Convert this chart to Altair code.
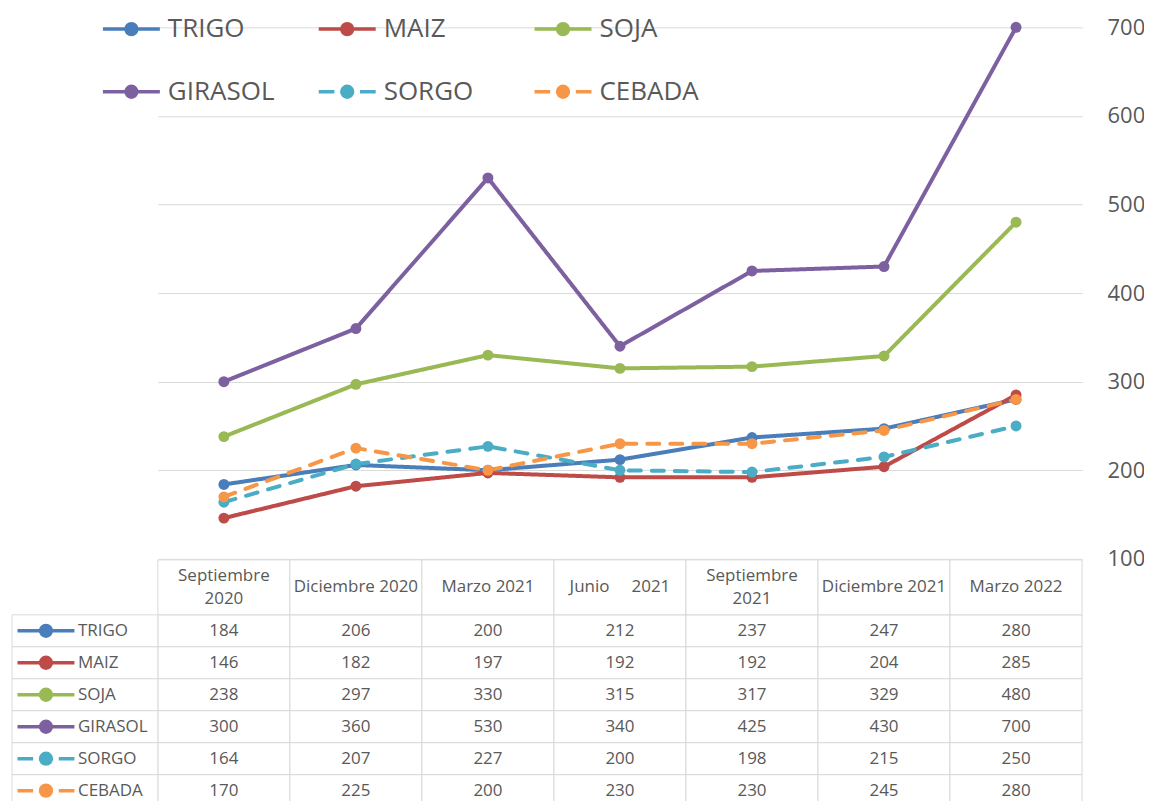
import altair as alt
import pandas as pd

periods = ["Septiembre 2020", "Diciembre 2020", "Marzo 2021", "Junio 2021",
           "Septiembre 2021", "Diciembre 2021", "Marzo 2022"]
header_labels = ["Septiembre\n2020", "Diciembre 2020", "Marzo 2021",
                 "Junio\u00a0\u00a0\u00a0\u00a0 2021", "Septiembre\n2021",
                 "Diciembre 2021", "Marzo 2022"]
series = ["TRIGO", "MAIZ", "SOJA", "GIRASOL", "SORGO", "CEBADA"]
trigo = [184, 206, 200, 212, 237, 247, 280]
maiz = [146, 182, 197, 192, 192, 204, 285]
soja = [238, 297, 330, 315, 317, 329, 480]
girasol = [300, 360, 530, 340, 425, 430, 700]
sorgo = [164, 207, 227, 200, 198, 215, 250]
cebada = [170, 225, 200, 230, 230, 245, 280]
colors = ["#4a7ebb", "#be4b48", "#98b954", "#7d60a0", "#4bacc6", "#f79646"]
y_ticks = [100, 200, 300, 400, 500, 600, 700]

values = {"TRIGO": trigo, "MAIZ": maiz, "SOJA": soja, "GIRASOL": girasol,
          "SORGO": sorgo, "CEBADA": cebada}
rows = []
for s in series:
    for i, p in enumerate(periods):
        rows.append({"series": s, "period": p, "idx": i, "value": values[s][i]})
df = pd.DataFrame(rows)
sdf = pd.DataFrame({"series": series})
hrows = []
for p, h in zip(periods, header_labels):
    parts = h.split("\n")
    for j, t in enumerate(parts):
        hrows.append({"period": p, "key": "h", "txt": t, "n": len(parts), "j": j})
hdf = pd.DataFrame(hrows)

FONT = "Open Sans"
GRAY = "#595959"
GRID = "#d9d9d9"

circle = "M-0.19,0A0.19,0.19 0 1,0 0.19,0A0.19,0.19 0 1,0 -0.19,0Z"
solid_path = "M-1,0H1" + circle
dash_path = "M-1,0H-0.45M0.45,0H1" + circle
shapes = [solid_path] * 4 + [dash_path] * 2
dashes = [[1, 0]] * 4 + [[12, 11]] * 2

xs = alt.Scale(type="band", domain=periods, paddingInner=0, paddingOuter=0)
# legend scales (fill / stroke / shape) in series order
cs = alt.Scale(domain=series, range=colors)
shp = alt.Scale(domain=series, range=shapes)
# line scales (no legend), listed in reverse so they stay apart from the legend
cs_line = alt.Scale(domain=series[::-1], range=colors[::-1])
ds_line = alt.Scale(domain=series[::-1], range=dashes[::-1])

ys = alt.Scale(domain=[100, 700], range=[551, 19], nice=False, zero=False)
rows_scale = alt.Scale(type="band", domain=series, range=[607, 799],
                       paddingInner=0, paddingOuter=0)
hdr_scale = alt.Scale(type="band", domain=["h"], range=[552, 607],
                      paddingInner=0, paddingOuter=0)

yaxis = alt.Axis(orient="right", values=y_ticks, grid=True, gridColor=GRID,
                 gridWidth=1, ticks=False, tickSize=0, domain=False,
                 labelPadding=25, labelFontSize=22, labelColor=GRAY,
                 labelFont=FONT, title=None)

X = alt.X("period:N", scale=xs, axis=None)

leg = alt.Legend(orient="none", legendX=-57, legendY=-10, columns=3,
                 direction="horizontal",
                 gridAlign="all", columnPadding=37, rowPadding=19, padding=0,
                 labelFontSize=26, labelFont=FONT, labelColor=GRAY,
                 symbolSize=3249, symbolStrokeWidth=3.5, labelOffset=6,
                 title=None)

line = alt.Chart(df).mark_line(strokeWidth=4, strokeCap="round", strokeJoin="round").encode(
    x=X,
    y=alt.Y("value:Q", scale=ys, axis=yaxis),
    color=alt.Color("series:N", scale=cs_line, legend=None),
    strokeDash=alt.StrokeDash("series:N", scale=ds_line, legend=None),
    order=alt.Order("idx:Q"),
)
pts = alt.Chart(df).mark_circle(size=120, opacity=1).encode(
    x=X,
    y=alt.Y("value:Q", scale=ys, axis=yaxis),
    color=alt.Color("series:N", scale=cs_line, legend=None),
)
lines_layer = alt.layer(line, pts)

RY = alt.Y("series:N", scale=rows_scale, axis=None)
cells = alt.Chart(df).mark_rect(fill="#ffffff", stroke=GRID, strokeWidth=1).encode(
    x=X, y=RY)
nums = alt.Chart(df).mark_text(font=FONT, fontSize=17, color=GRAY).encode(
    x=X, y=RY, text=alt.Text("value:Q"))
lab_cells = alt.Chart(sdf).mark_rect(fill="#ffffff", stroke=GRID, strokeWidth=1).encode(
    x=alt.value(-146), x2=alt.value(0), y=RY)
lab_sym = alt.Chart(sdf).mark_point(filled=True, size=3249, strokeWidth=3.5, opacity=1).encode(
    x=alt.value(-112), y=RY,
    fill=alt.Fill("series:N", scale=cs, legend=leg),
    stroke=alt.Stroke("series:N", scale=cs, legend=leg),
    shape=alt.Shape("series:N", scale=shp, legend=leg),
)
lab_txt = alt.Chart(sdf).mark_text(font=FONT, fontSize=17, color=GRAY, align="left").encode(
    x=alt.value(-80), y=RY, text="series:N")
table_layer = alt.layer(cells, nums, lab_cells, lab_sym, lab_txt)

HY = alt.Y("key:N", scale=hdr_scale, axis=None)
hcells = alt.Chart(hdf).transform_filter("datum.j == 0").mark_rect(
    fill="#ffffff", stroke=GRID, strokeWidth=1).encode(x=X, y=HY)
h_single = alt.Chart(hdf).transform_filter("datum.n == 1").mark_text(
    font=FONT, fontSize=17, color=GRAY, baseline="middle").encode(
    x=X, y=HY, text=alt.Text("txt:N"))
h_top = alt.Chart(hdf).transform_filter("datum.n == 2 && datum.j == 0").mark_text(
    font=FONT, fontSize=17, color=GRAY, baseline="middle", dy=-11).encode(
    x=X, y=HY, text=alt.Text("txt:N"))
h_bot = alt.Chart(hdf).transform_filter("datum.n == 2 && datum.j == 1").mark_text(
    font=FONT, fontSize=17, color=GRAY, baseline="middle", dy=12).encode(
    x=X, y=HY, text=alt.Text("txt:N"))
header_layer = alt.layer(hcells, h_single, h_top, h_bot)

chart = alt.layer(lines_layer, table_layer, header_layer).resolve_scale(
    y="independent"
).properties(
    width=925, height=795,
    autosize=alt.AutoSizeParams(type="none"),
    padding={"left": 150, "top": 0, "right": 62, "bottom": 0},
    background="#ffffff",
).configure_view(strokeWidth=0)

chart.save("out.html", embed_options={"renderer": "svg", "actions": False})
